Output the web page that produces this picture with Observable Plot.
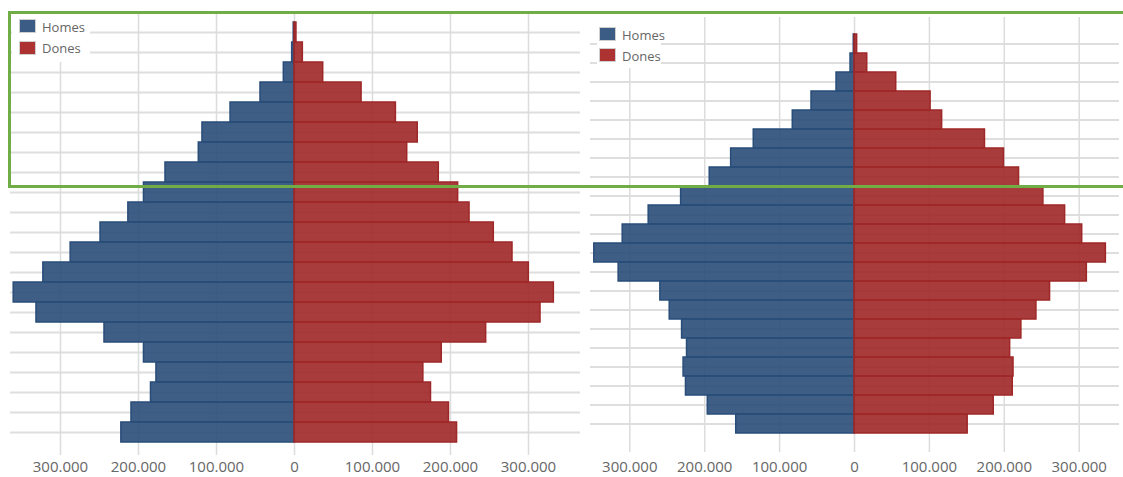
<!DOCTYPE html>
<html>
<head>
<meta charset="utf-8">
<script src="https://cdn.jsdelivr.net/npm/d3@7"></script>
<script src="https://cdn.jsdelivr.net/npm/@observablehq/plot@0.6"></script>
<style>
  body { margin: 0; background: #fff; font-family: "Open Sans", sans-serif; }
  #wrap { position: relative; width: 1123px; height: 477px; overflow: hidden; background: #fff; }
  #left { position: absolute; left: 0; top: 0; }
  #right { position: absolute; left: 585px; top: 0; }
  .lbox { position: absolute; background: #fff; }
  .sw { position: absolute; width: 15px; height: 12px; border: 1px solid #cfcfcf; }
  .lt { position: absolute; font-size: 13px; line-height: 14px; color: #666; white-space: nowrap; }
  #frame { position: absolute; left: 8px; top: 11px; width: 1200px; height: 177px; box-sizing: border-box; border: 3px solid #70ad47; pointer-events: none; }
</style>
</head>
<body>
<div id="wrap">
  <div id="left"></div>
  <div id="right"></div>
  <div id="legends"></div>
  <div id="frame"></div>
</div>
<script>
// Age groups, youngest first
const ages = ["0-4","5-9","10-14","15-19","20-24","25-29","30-34","35-39","40-44","45-49","50-54",
              "55-59","60-64","65-69","70-74","75-79","80-84","85-89","90-94","95-99","100+"];
const seriesNames = ["Homes", "Dones"];

// Left pyramid
const leftHomes = [222000, 209000, 184000, 177000, 193000, 243600, 330800, 360000, 322000, 287000, 248700,
                   213000, 193000, 165400, 122700, 118000, 82000, 43600, 13700, 3000, 1000];
const leftDones = [208400, 198000, 175000, 165200, 188800, 245700, 315400, 332500, 300400, 279500, 255500,
                   224400, 209800, 185000, 144500, 158000, 130000, 86000, 36800, 10700, 2500];

// Right pyramid
const rightHomes = [157900, 195900, 225000, 228200, 223600, 230200, 246700, 259200, 314900, 347400, 309500,
                    274800, 231500, 193300, 164700, 134500, 82400, 57400, 24000, 5300, 1000];
const rightDones = [151100, 185900, 211300, 212300, 207800, 222800, 242900, 261100, 310200, 335600, 304000,
                    281200, 252200, 219700, 199600, 174200, 117000, 101600, 55700, 17000, 3500];

const tickValues = [-300000, -200000, -100000, 0, 100000, 200000, 300000];
const fmt = d => d3.format(",")(Math.abs(d)).replace(/,/g, ".");

const blue = "#294d79", red = "#9f2727";

function pyramid(homes, dones, o) {
  const hData = ages.map((a, i) => ({age: a, v: -homes[i]}));
  const dData = ages.map((a, i) => ({age: a, v: dones[i]}));
  return Plot.plot({
    width: o.width, height: 477,
    marginTop: o.mt, marginBottom: o.mb, marginLeft: o.ml, marginRight: o.mr,
    style: {fontFamily: "Open Sans", fontSize: "15px", color: "#666", background: "transparent", overflow: "visible"},
    x: {domain: o.domain, label: null},
    y: {domain: ages.slice().reverse(), padding: 0, axis: null, label: null},
    marks: [
      Plot.gridY({stroke: "#dedede", strokeOpacity: 1, strokeWidth: 2}),
      Plot.gridX({ticks: tickValues, stroke: "#dcdcdc", strokeOpacity: 1, strokeWidth: 1.5, insetTop: o.gt, insetBottom: o.gb}),
      Plot.barX(hData, {x1: 0, x2: "v", y: "age", fill: blue, fillOpacity: 0.9, stroke: blue, strokeWidth: 1.5}),
      Plot.barX(dData, {x1: 0, x2: "v", y: "age", fill: red, fillOpacity: 0.9, stroke: red, strokeWidth: 1.5}),
      Plot.axisX({ticks: tickValues, tickSize: 0, tickPadding: o.tp, tickFormat: fmt, fill: "#666", fontSize: 15, label: null})
    ]
  });
}

document.getElementById("left").append(pyramid(leftHomes, leftDones, {
  width: 585, mt: 16, mb: 30, ml: 10, mr: 5, domain: [-364103, 366667], gt: -3, gb: -8, tp: 14
}));
document.getElementById("right").append(pyramid(rightHomes, rightDones, {
  width: 538, mt: 24, mb: 35, ml: 5, mr: 4, domain: [-352470, 353805], gt: -7, gb: -10, tp: 19
}));

// Legends
const legends = document.getElementById("legends");
function legend(box, sx, items) {
  const b = document.createElement("div");
  b.className = "lbox";
  Object.assign(b.style, {left: box[0] + "px", top: box[1] + "px", width: box[2] + "px", height: box[3] + "px"});
  legends.append(b);
  items.forEach((it, i) => {
    const s = document.createElement("div");
    s.className = "sw";
    Object.assign(s.style, {left: sx + "px", top: it.sy + "px", background: i === 0 ? "#3a5c85" : "#ad3232"});
    legends.append(s);
    const t = document.createElement("div");
    t.className = "lt";
    t.textContent = seriesNames[i];
    Object.assign(t.style, {left: (sx + 23) + "px", top: (it.cy - 7) + "px"});
    legends.append(t);
  });
}
legend([12, 13, 78, 49], 19, [{sy: 19, cy: 27}, {sy: 41, cy: 48}]);
legend([597, 17, 64, 51], 599, [{sy: 27, cy: 35}, {sy: 48, cy: 56}]);
</script>
</body>
</html>
